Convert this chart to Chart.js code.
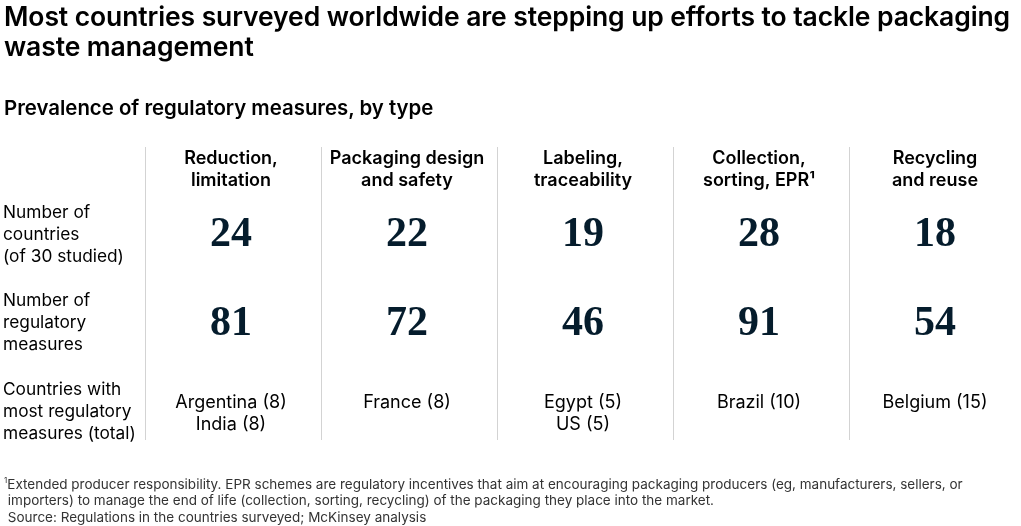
<!DOCTYPE html>
<html>
<head>
<meta charset="utf-8">
<script src="https://cdn.jsdelivr.net/npm/chart.js@4.4.1/dist/chart.umd.min.js"></script>
<style>
  html, body { margin: 0; padding: 0; background: #fff; overflow: hidden; }
  body { width: 1021px; height: 526px; position: relative; font-family: Inter, "Noto Sans", sans-serif; }
  #wrap { position: absolute; left: 0; top: 0; width: 1030px; height: 526px; }
  .title { position: absolute; left: 4px; top: 1px; width: 1017px; font-size: 26.5px; font-weight: 600; line-height: 30px; color: #000; letter-spacing: -0.1px; white-space: nowrap; }
  .sub { position: absolute; left: 4px; top: 95px; font-size: 20.4px; font-weight: 600; color: #000; }
  .notes { position: absolute; left: 4px; top: 472px; font-size: 13.5px; line-height: 16.5px; color: #333; white-space: nowrap; }
</style>
</head>
<body>
<div id="wrap"><canvas id="grid"></canvas></div>
<div class="title">Most countries surveyed worldwide are stepping up efforts to tackle packaging<br>waste management</div>
<div class="sub">Prevalence of regulatory measures, by type</div>
<div class="notes">
  <div><sup style="font-size:8px">1</sup>Extended producer responsibility. EPR schemes are regulatory incentives that aim at encouraging packaging producers (eg, manufacturers, sellers, or</div>
  <div>&nbsp;importers) to manage the end of life (collection, sorting, recycling) of the packaging they place into the market.</div>
  <div>&nbsp;Source: Regulations in the countries surveyed; McKinsey analysis</div>
</div>
<script>
// table data
const categories = [
  ['Reduction,', 'limitation'],
  ['Packaging design', 'and safety'],
  ['Labeling,', 'traceability'],
  ['Collection,', 'sorting, EPR¹'],
  ['Recycling', 'and reuse']
];
const countriesCount = [24, 22, 19, 28, 18];
const measuresCount = [81, 72, 46, 91, 54];
const topCountries = [
  ['Argentina (8)', 'India (8)'],
  ['France (8)'],
  ['Egypt (5)', 'US (5)'],
  ['Brazil (10)'],
  ['Belgium (15)']
];
const rowLabels = [
  ['Number of', 'countries', '(of 30 studied)'],
  ['Number of', 'regulatory', 'measures'],
  ['Countries with', 'most regulatory', 'measures (total)']
];

const SANS = 'Inter, "Noto Sans", sans-serif';
const SERIF = '"Liberation Serif", "DejaVu Serif", serif';
const LINE = 22;

function rowPoints(row) {
  return categories.map((c, i) => ({x: i, y: row}));
}

const cellText = {
  id: 'cellText',
  afterDatasetsDraw(chart) {
    const ctx = chart.ctx;
    const y = chart.scales.y;
    ctx.save();
    ctx.textAlign = 'center';
    ctx.textBaseline = 'middle';

    // column headers
    const hy = y.getPixelForValue(0.29);
    ctx.fillStyle = '#000';
    ctx.font = '600 18px ' + SANS;
    chart.getDatasetMeta(0).data.forEach((pt, i) => {
      categories[i].forEach((line, k) => ctx.fillText(line, pt.x - 2, hy - LINE / 2 + k * LINE + 1));
    });

    // big numbers
    ctx.fillStyle = '#051c2c';
    ctx.font = 'bold 42px ' + SERIF;
    [countriesCount, measuresCount].forEach((vals, d) => {
      chart.getDatasetMeta(d).data.forEach((pt, i) => ctx.fillText(String(vals[i]), pt.x - 2, pt.y + 4));
    });

    // countries with most measures
    ctx.fillStyle = '#000';
    ctx.font = '18px ' + SANS;
    chart.getDatasetMeta(2).data.forEach((pt, i) => {
      topCountries[i].forEach((line, k) => ctx.fillText(line, pt.x - 2, pt.y - 6 + k * LINE));
    });

    // row labels
    ctx.textAlign = 'left';
    ctx.font = '17.3px ' + SANS;
    rowLabels.forEach((lines, r) => {
      const cy = y.getPixelForValue(r + 1) + 3;
      lines.forEach((line, k) => ctx.fillText(line, 3, cy + (k - (lines.length - 1) / 2) * LINE));
    });
    ctx.restore();
  }
};

new Chart(document.getElementById('grid'), {
  type: 'scatter',
  data: {
    labels: categories.map(c => c.join(' ')),
    datasets: [
      {label: 'Number of countries', data: rowPoints(1), pointRadius: 0},
      {label: 'Number of regulatory measures', data: rowPoints(2), pointRadius: 0},
      {label: 'Countries with most measures', data: rowPoints(3), pointRadius: 0}
    ]
  },
  options: {
    responsive: true,
    maintainAspectRatio: false,
    animation: false,
    events: [],
    layout: {padding: {left: 145, right: 5, top: 147, bottom: 86}},
    plugins: {legend: {display: false}, tooltip: {enabled: false}},
    scales: {
      x: {
        type: 'category',
        offset: true,
        ticks: {display: false},
        border: {display: false},
        grid: {
          offset: true,
          drawTicks: false,
          lineWidth: 1,
          color: c => c.index === categories.length ? 'rgba(0,0,0,0)' : '#d3d3d3'
        }
      },
      y: {
        type: 'linear',
        reverse: true,
        min: 0.05,
        max: 3.35,
        display: false
      }
    }
  },
  plugins: [cellText]
});
</script>
</body>
</html>
